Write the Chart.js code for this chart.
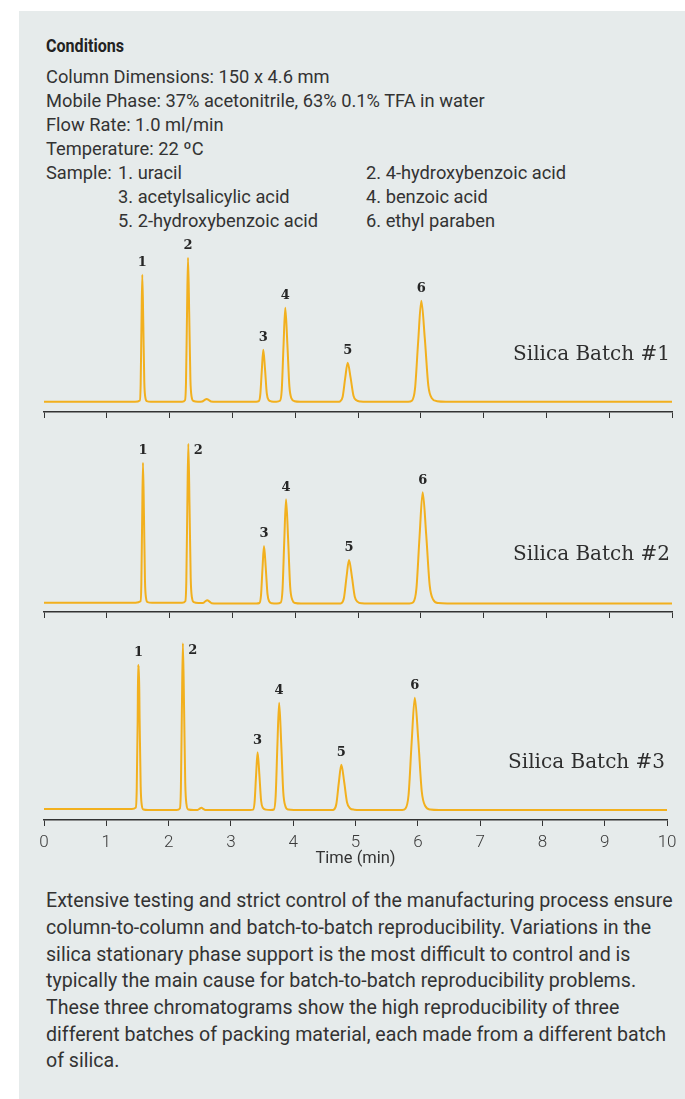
<!DOCTYPE html>
<html><head><meta charset="utf-8">
<script src="https://cdn.jsdelivr.net/npm/chart.js@4.4.1/dist/chart.umd.min.js"></script>
<style>
html,body{margin:0;padding:0;background:#fff;}
#page{position:relative;width:685px;height:1099px;overflow:hidden;}
#panel{position:absolute;left:19px;top:11px;width:666px;height:1088px;background:#e6ebeb;}
.t{position:absolute;font-family:Roboto,"Open Sans",sans-serif;font-size:18.3px;line-height:24px;color:#333;white-space:nowrap;}
.p{position:absolute;left:46px;top:888.2px;font-family:Roboto,"Open Sans",sans-serif;font-size:19.6px;line-height:26.67px;color:#333;white-space:nowrap;}
canvas{position:absolute;left:0;}
</style></head><body>
<div id="page">
<div id="panel"></div>
<div class="t" style="left:46px;top:33.6px;font-weight:700;color:#222;transform:scaleX(0.88);transform-origin:left;">Conditions</div>
<div class="t" style="left:46px;top:64.55px;">Column Dimensions: 150 x 4.6 mm</div>
<div class="t" style="left:46px;top:88.55px;">Mobile Phase: 37% acetonitrile, 63% 0.1% TFA in water</div>
<div class="t" style="left:46px;top:112.55px;">Flow Rate: 1.0 ml/min</div>
<div class="t" style="left:46px;top:136.55px;">Temperature: 22 ºC</div>
<div class="t" style="left:46px;top:160.55px;">Sample:</div>
<div class="t" style="left:118px;top:160.55px;">1. uracil</div>
<div class="t" style="left:366px;top:160.55px;">2. 4-hydroxybenzoic acid</div>
<div class="t" style="left:118px;top:184.55px;">3. acetylsalicylic acid</div>
<div class="t" style="left:366px;top:184.55px;">4. benzoic acid</div>
<div class="t" style="left:118px;top:208.55px;">5. 2-hydroxybenzoic acid</div>
<div class="t" style="left:366px;top:208.55px;">6. ethyl paraben</div>
<canvas id="c1" width="685" height="186" style="top:232px"></canvas>
<canvas id="c2" width="685" height="188" style="top:430px"></canvas>
<canvas id="c3" width="685" height="240" style="top:630px"></canvas>
<div class="p">Extensive testing and strict control of the manufacturing process ensure<br>column-to-column and batch-to-batch reproducibility. Variations in the<br>silica stationary phase support is the most difficult to control and is<br>typically the main cause for batch-to-batch reproducibility problems.<br>These three chromatograms show the high reproducibility of three<br>different batches of packing material, each made from a different batch<br>of silica.</div>
</div>
<script>
// ---- data (time in min, detector signal in arbitrary units) ----
const xTickLabels = ['0','1','2','3','4','5','6','7','8','9','10'];
const peakLabels = ['1','2','3','4','5','6'];
const batchNames = ['Silica Batch #1','Silica Batch #2','Silica Batch #3'];

const batch1Time = [0,1.45,1.526,1.539,1.552,1.565,1.581,1.597,1.613,1.637,1.70,2.20,2.245,2.261,2.277,2.293,2.312,2.331,2.350,2.380,2.45,2.52,2.555,2.59,2.625,2.66,2.74,3.38,3.420,3.444,3.468,3.492,3.520,3.548,3.576,3.62,3.70,3.758,3.786,3.814,3.842,3.875,3.908,3.941,3.99,4.08,4.68,4.716,4.756,4.796,4.836,4.882,4.928,4.974,5.04,5.14,5.80,5.858,5.908,5.958,6.008,6.064,6.120,6.176,6.26,6.40,10];
const batch1Signal = [0,0,1.3,17,76,127,79,20,4.5,0.6,0,0,1.4,19,86,144,89,23,5,0.7,0,0.3,1.6,2.7,1.6,0.3,0,0,0.5,7,31,52,32,8,1.8,0.3,0,0.9,12,56,94,58,15,3.3,0.5,0,0,0.4,5,23.5,39,24,6,1.4,0.2,0,0,1,13,60,101,63,16,3.5,0.5,0,0];
const batch1Peaks = [1.565,2.293,3.492,3.842,4.836,6.008];

const batch2Time = [0,1.46,1.537,1.550,1.563,1.576,1.592,1.608,1.624,1.648,1.72,2.20,2.250,2.266,2.282,2.298,2.317,2.336,2.355,2.385,2.46,2.53,2.565,2.60,2.635,2.67,2.76,3.38,3.431,3.455,3.479,3.503,3.531,3.559,3.587,3.63,3.71,3.770,3.798,3.826,3.854,3.887,3.920,3.953,4.00,4.09,4.70,4.737,4.777,4.817,4.857,4.903,4.949,4.995,5.06,5.16,5.82,5.880,5.930,5.980,6.030,6.086,6.142,6.198,6.28,6.42,10];
const batch2Signal = [0,0,1.4,19,84,140,87,22,5,0.6,0,0,1.5,21,95,159,98,25,5.5,0.5,-0.3,-0.3,1.2,2.4,1.1,-0.5,-0.8,-0.8,-0.3,7,34,56.7,35,8.5,1.2,-0.5,-0.8,0.2,13,62,103.4,64,16,3,-0.3,-0.8,-0.8,-0.4,5,25.5,42.7,26,6,0.8,-0.6,-0.8,-0.8,0.4,14,66,110.4,68,17,3,-0.4,-0.8,-0.8];
const batch2Peaks = [1.576,2.298,3.503,3.854,4.857,6.030];

const batch3Time = [0,1.41,1.473,1.488,1.503,1.511,1.517,1.523,1.535,1.552,1.569,1.595,1.67,2.13,2.181,2.197,2.213,2.229,2.248,2.267,2.286,2.316,2.40,2.46,2.495,2.527,2.56,2.60,3.31,3.356,3.380,3.404,3.428,3.456,3.484,3.512,3.56,3.64,3.690,3.718,3.746,3.774,3.807,3.840,3.873,3.92,4.01,4.62,4.652,4.692,4.732,4.772,4.818,4.864,4.910,4.98,5.08,5.75,5.801,5.851,5.901,5.951,6.007,6.063,6.119,6.20,6.34,10];
const batch3Signal = [0,0,1.4,19,87,144,141,143,88,22,4,-0.5,-1,-1,0.5,21,99,165.7,102,26,5,-0.5,-1,-1,0.2,1.3,0,-1,-1,-0.6,7,34,56.7,35,8.5,1.2,-0.6,-1,-0.5,13,64,106.3,66,17,3,-0.6,-1,-1,-0.6,5,26.5,44.3,27,6.5,0.8,-0.7,-1,-1,0.3,14,67,111.3,69,17.5,3,-0.5,-1,-1];
const batch3Peaks = [1.517,2.229,3.428,3.774,4.772,5.951];

// ---- drawing ----
const TRACE = '#f2b01e';
const INK = '#262626';

function annotPlugin(p){
  return {
    id:'annot',
    afterDatasetsDraw(chart){
      const {ctx, chartArea} = chart;
      const x = chart.scales.x, y = chart.scales.y;
      ctx.save();
      ctx.fillStyle = INK;
      ctx.font = 'bold 13px "DejaVu Serif", serif';
      ctx.textAlign = 'center';
      ctx.textBaseline = 'middle';
      p.peaks.forEach((t,i)=>{
        let best = -Infinity;
        p.time.forEach((tt,j)=>{ if (Math.abs(tt-t) <= 0.02 && p.signal[j] > best) best = p.signal[j]; });
        const px = x.getPixelForValue(t), py = y.getPixelForValue(best);
        let dx = 0, dy = -12;
        if (i === 1 && p.label2 === 'right'){ dx = 10; dy = 7; }
        ctx.fillText(peakLabels[i], px+dx, py+dy);
      });
      ctx.font = '20px "DejaVu Serif", serif';
      ctx.fillStyle = '#2e2e2e';
      ctx.textAlign = 'right';
      ctx.fillText(p.name, chartArea.right-2, chartArea.bottom-57.5);
      ctx.restore();
    }
  };
}

function makePanel(p){
  const showTicks = !!p.showTicks;
  new Chart(document.getElementById(p.id), {
    type:'line',
    data:{datasets:[{
      data:p.time.map((t,i)=>({x:t,y:p.signal[i]})),
      borderColor:TRACE, borderWidth:2, pointRadius:0, fill:false,
      cubicInterpolationMode:'monotone', borderJoinStyle:'round', borderCapStyle:'round'
    }]},
    options:{
      responsive:false, animation:false, devicePixelRatio:1,
      layout:{padding:{left:44,right:13,top:0,bottom:p.padBottom||0}},
      plugins:{legend:{display:false},tooltip:{enabled:false}},
      scales:{
        x:{type:'linear',min:0,max:10,
          ticks:{display:showTicks,stepSize:1,autoSkip:false,maxRotation:0,padding:8.5,color:'#3a3a3a',
            font:{family:'Roboto',size:17,weight:'300',lineHeight:1},
            callback:(v)=>xTickLabels[v]},
          grid:{drawOnChartArea:false,tickLength:6,color:'#333',lineWidth:1},
          border:{display:true,color:'#333',width:1.5},
          title:{display:showTicks,text:'Time (min)',color:'#333',
            font:{family:'Roboto',size:16.5,lineHeight:1},padding:{top:-9.25,bottom:0}}
        },
        y:{display:false,min:p.yMin,max:p.yMax}
      }
    },
    plugins:[annotPlugin(p)]
  });
}

makePanel({id:'c1',time:batch1Time,signal:batch1Signal,peaks:batch1Peaks,name:batchNames[0],yMin:-10.3,yMax:169.7,label2:'top'});
makePanel({id:'c2',time:batch2Time,signal:batch2Signal,peaks:batch2Peaks,name:batchNames[1],yMin:-9.3,yMax:172.7,label2:'right'});
makePanel({id:'c3',time:batch3Time,signal:batch3Signal,peaks:batch3Peaks,name:batchNames[2],yMin:-11,yMax:179,label2:'right',showTicks:true,padBottom:2.75});
</script>
</body></html>
